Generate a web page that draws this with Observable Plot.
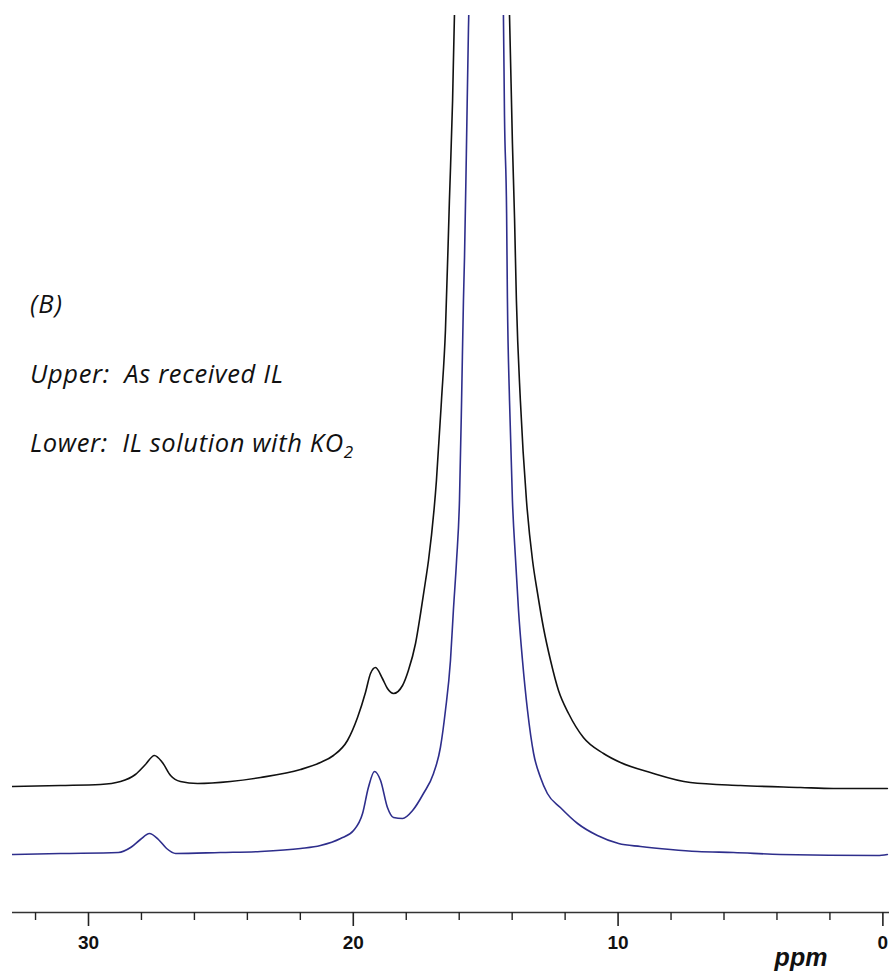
<!DOCTYPE html>
<html>
<head>
<meta charset="utf-8">
<script src="https://cdn.jsdelivr.net/npm/d3@7"></script>
<script src="https://cdn.jsdelivr.net/npm/@observablehq/plot@0.6"></script>
<style>
  html, body { margin: 0; padding: 0; background: #fff; }
  #chart svg { display: block; }
</style>
</head>
<body>
<div id="chart"></div>
<script>
// Chemical shift (ppm) and intensity (arbitrary units)
const upperPpm = [32.87, 31.06, 29.55, 28.79, 28.23, 27.85, 27.51, 27.21, 26.90, 26.53, 25.88, 24.64, 23.50, 21.99, 21.24, 20.75, 20.22, 19.84, 19.54, 19.35, 19.16, 18.90, 18.71, 18.48, 18.14, 17.92, 17.65, 17.46, 17.27, 17.16, 16.86, 16.67, 16.52, 16.37, 16.25, 16.18, 16.10, 15.05, 14.14, 14.10, 13.99, 13.91, 13.84, 13.69, 13.46, 13.23, 13.04, 12.82, 12.55, 12.25, 11.87, 11.31, 10.55, 9.91, 8.78, 7.27, 5.38, 3.11, 1.87, -0.17];
const upperInt = [126, 127, 128, 131, 138, 148, 157, 150, 137, 131, 129, 131, 135, 143, 150, 157, 172, 195, 220, 239, 245, 234, 224, 219, 227, 242, 269, 299, 332, 352, 432, 512, 582, 712, 812, 897, 932, 2000, 932, 897, 769, 694, 612, 512, 412, 352, 319, 285, 252, 222, 199, 175, 159, 150, 140, 130, 127, 125, 124, 124];

const lowerPpm = [32.87, 31.06, 28.87, 28.41, 28.04, 27.70, 27.36, 27.05, 26.71, 25.02, 23.50, 21.99, 21.24, 20.48, 19.99, 19.65, 19.43, 19.20, 18.97, 18.71, 18.48, 18.14, 17.76, 17.35, 16.97, 16.71, 16.52, 16.33, 16.22, 16.10, 15.99, 15.91, 15.84, 15.80, 15.73, 15.65, 15.61, 15.05, 14.37, 14.33, 14.29, 14.21, 14.18, 14.10, 13.99, 13.87, 13.76, 13.61, 13.42, 13.19, 12.93, 12.67, 12.18, 11.53, 10.78, 9.98, 9.15, 8.02, 7.00, 5.64, 3.87, 0.20, -0.17];
const lowerInt = [58, 59, 60, 65, 73, 79, 73, 64, 59, 60, 61, 64, 67, 74, 82, 99, 125, 141, 132, 105, 95, 94, 102, 119, 139, 165, 202, 252, 302, 352, 412, 512, 612, 655, 759, 885, 932, 2000, 932, 897, 797, 699, 615, 512, 412, 352, 302, 252, 202, 159, 135, 119, 105, 89, 77, 69, 66, 63, 61, 60, 58, 57, 58];

const majorTicks = [30, 20, 10, 0];
const minorTicks = [32, 28, 26, 24, 22, 18, 16, 14, 12, 8, 6, 4, 2];
const axisTitle = "ppm";
const notes = ["(B)", "Upper:  As received IL", "Lower:  IL solution with KO"];
const noteWidths = [32, 253, 323];
const upperColor = "#111111";
const lowerColor = "#2e2e8c";

const upper = upperPpm.map((p, i) => ({ppm: p, v: upperInt[i]}));
const lower = lowerPpm.map((p, i) => ({ppm: p, v: lowerInt[i]}));

const W = 889, H = 974;
const plot = Plot.plot({
  width: W,
  height: H,
  marginLeft: 12,
  marginRight: 0,
  marginTop: 15,
  marginBottom: 62,
  x: {domain: [32.87, -0.25], label: null},
  y: {domain: [0, 897], axis: null},
  style: {background: "#fff", overflow: "visible"},
  marks: [
    Plot.ruleY([0], {stroke: "#333", strokeWidth: 1.6}),
    Plot.axisX(minorTicks, {tickSize: 8, tickFormat: () => "", stroke: "#222", strokeWidth: 1.4, label: null}),
    Plot.axisX(majorTicks, {tickSize: 14, tickPadding: 9, stroke: "#222", strokeWidth: 1.6,
      fontSize: 19, fontWeight: "bold", fontFamily: "Liberation Sans, Arial, sans-serif", fill: "#111", label: null}),
    Plot.line(upper, {x: "ppm", y: "v", stroke: upperColor, strokeWidth: 1.6, curve: "monotone-x", clip: true}),
    Plot.line(lower, {x: "ppm", y: "v", stroke: lowerColor, strokeWidth: 1.6, curve: "monotone-x", clip: true})
  ]
});
document.getElementById("chart").appendChild(plot);

const svg = d3.select(plot);
const baselines = [313, 383, 452];
const noteStyle = "font-family:'Open Sans','Noto Sans',sans-serif;font-style:italic;font-size:25.5px;fill:#111;white-space:pre;";
notes.forEach((t, i) => {
  const txt = svg.append("text")
    .attr("style", noteStyle)
    .attr("text-anchor", "start")
    .attr("textLength", noteWidths[i])
    .attr("lengthAdjust", "spacing")
    .attr("x", 30).attr("y", baselines[i]).text(t);
  if (i === 2) {
    txt.append("tspan").attr("dy", 6).attr("style", "font-size:17px").text("2");
  }
});
svg.append("text")
  .attr("x", 801).attr("y", 966)
  .attr("text-anchor", "middle")
  .attr("style", "font-family:'Liberation Sans',Arial,sans-serif;font-weight:bold;font-style:italic;font-size:25px;fill:#111;")
  .text(axisTitle);
</script>
</body>
</html>
